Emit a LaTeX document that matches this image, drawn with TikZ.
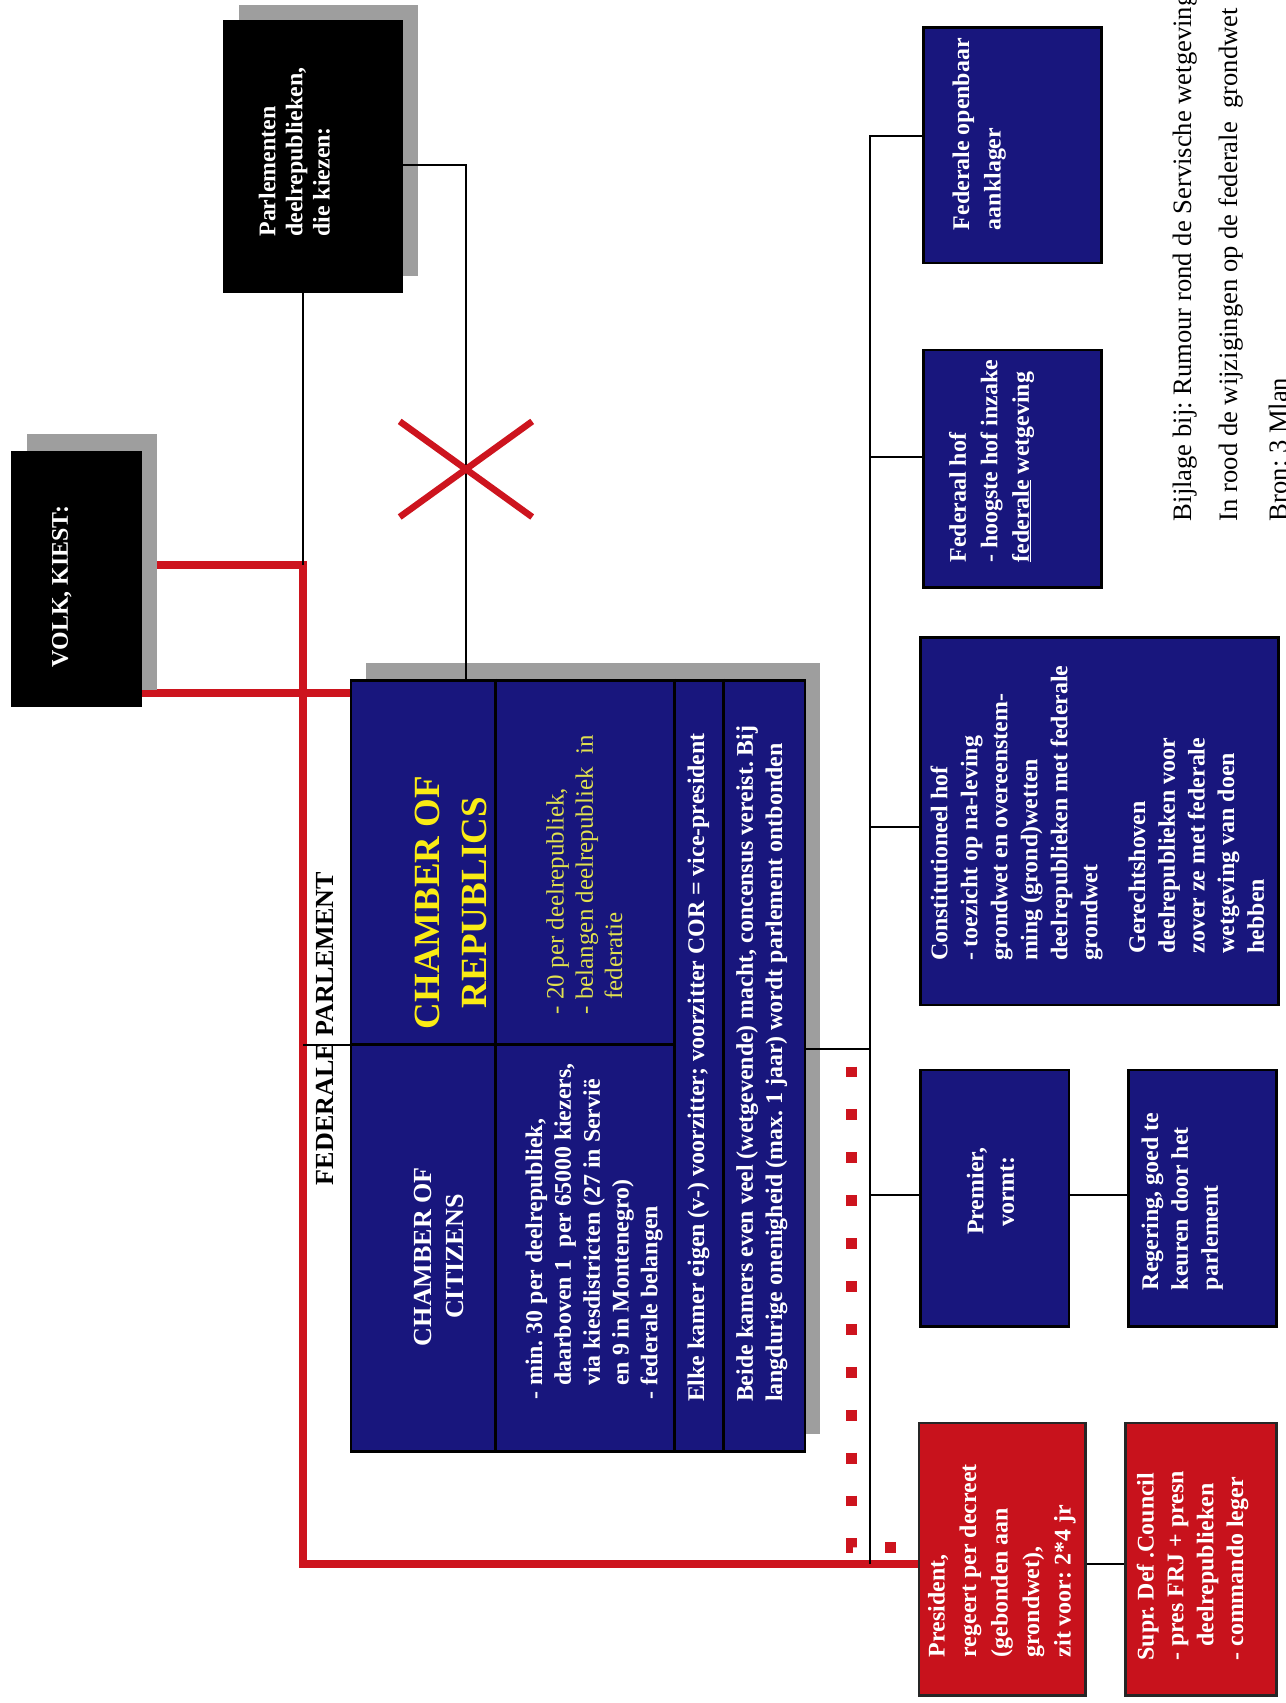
\documentclass[tikz,border=0pt]{standalone}
\usepackage{fontspec}
\setmainfont{Liberation Serif}
\frenchspacing
\pgfdeclarelayer{bg}
\pgfsetlayers{bg,main}
\definecolor{navy}{RGB}{24,22,125}
\definecolor{boxred}{RGB}{200,18,28}
\definecolor{linered}{RGB}{205,20,30}
\definecolor{shadowgray}{RGB}{158,158,158}
\definecolor{titleyel}{RGB}{250,235,20}
\definecolor{txtyel}{RGB}{225,225,80}
\begin{document}
\begin{tikzpicture}[x=1pt,y=-1pt,
  bluebox/.style={draw=black, line width=2.5pt, fill=navy, inner sep=0pt, anchor=north west},
  redbox/.style={draw=black!85, line width=2.5pt, fill=boxred, inner sep=0pt, anchor=north west},
  blackbox/.style={draw=black, fill=black, inner sep=0pt, anchor=north west},
  shadowbox/.style={fill=shadowgray},
  conn/.style={draw=black, line width=1.8pt},
  gridline/.style={draw=black, line width=3pt},
  redconn/.style={draw=linered, line width=7pt},
  reddots/.style={draw=linered, line width=10pt, dash pattern=on 10pt off 29.5pt},
  wtxt/.style={rotate=90, inner sep=0pt, align=left, text=white, font=\fontsize{22}{27}\selectfont\bfseries},
  notetxt/.style={rotate=90, inner sep=0pt, anchor=west, text=black, font=\fontsize{24.5}{28}\selectfont}
]
\useasboundingbox (0,0) rectangle (1184,1568);
\begin{pgfonlayer}{bg}
\fill[white] (0,0) rectangle (1184,1568);
\end{pgfonlayer}

% shadows
\fill[shadowbox] (25,400) rectangle (145,635);
\fill[shadowbox] (220,5) rectangle (385,254);
\fill[shadowbox] (337,610) rectangle (755,1320);

% boxes
\node[blackbox, minimum width=120pt, minimum height=235pt] (volk) at (10,415) {};
\node[blackbox, minimum width=165pt, minimum height=251pt] (parl) at (205,18) {};
\node[bluebox, minimum width=418pt, minimum height=710pt] (chamber) at (322,625) {};
\node[bluebox, minimum width=164pt, minimum height=217pt] (fedOA) at (849,24) {};
\node[bluebox, minimum width=164pt, minimum height=219pt] (fedHof) at (849,321) {};
\node[bluebox, minimum width=330pt, minimum height=338pt] (constHof) at (846,586) {};
\node[bluebox, minimum width=137pt, minimum height=236pt] (premier) at (846,984) {};
\node[bluebox, minimum width=136pt, minimum height=236pt] (regering) at (1038,984) {};
\node[redbox, minimum width=153pt, minimum height=251pt] (president) at (845,1309) {};
\node[redbox, minimum width=139pt, minimum height=251pt] (supr) at (1035,1309) {};

% chamber grid
\draw[gridline] (456,625) -- (456,1335);
\draw[gridline] (621,625) -- (621,1335);
\draw[gridline] (666,625) -- (666,1335);
\draw[gridline] (322,962) -- (621,962);

% junction coordinates
\coordinate (pj) at (429,152);
\coordinate (rj) at (279,520);
\coordinate (r2) at (279,638);
\coordinate (fp) at (279,962);
\coordinate (sp1) at (801,125);
\coordinate (b2) at (801,421);
\coordinate (b3) at (801,761);
\coordinate (b4) at (801,966);
\coordinate (b5) at (801,1100);
\coordinate (b6) at (801,1440);
\coordinate (d1) at (784,982);
\coordinate (d2) at (784,1425);

% red connectors (under shadows)
\begin{pgfonlayer}{bg}
\draw[redconn] (volk.east |- rj) -- (rj) -- (rj |- b6) -- (president.west |- b6);
\draw[redconn] (volk.east |- r2) -- (chamber.west |- r2);
\end{pgfonlayer}

% black connectors
\draw[conn] (parl.east |- pj) -- (pj) -- (pj |- chamber.north);
\draw[conn] (rj |- parl.south) -- (rj);
\draw[conn] (fp) -- (chamber.west |- fp);
\draw[conn] (fedOA.west |- sp1) -- (sp1) -- (b6);
\draw[conn] (b2) -- (b2 -| fedHof.west);
\draw[conn] (b3) -- (b3 -| constHof.west);
\draw[conn] (chamber.east |- b4) -- (b4);
\draw[conn] (b5) -- (b5 -| premier.west);
\draw[conn] (premier.east |- b5) -- (regering.west |- b5);
\draw[conn] (president.east |- b6) -- (supr.west |- b6);

% red cross and dotted line
\draw[linered, line width=6pt] (368,388) -- (490,476);
\draw[linered, line width=6pt] (368,476) -- (490,388);
\draw[reddots] (d1) -- (d2) -- (president.west |- d2);

% texts
\node[wtxt, anchor=center] (volkT) at (57,540) {VOLK, KIEST:};
\node[wtxt, anchor=west, font=\fontsize{22}{25}\selectfont\bfseries] (parlT) at (271,218) {Parlementen\\deelrepublieken,\\die kiezen:};
\node[rotate=90, inner sep=0pt, text=black, font=\fontsize{24}{28}\selectfont\bfseries] (fedparl) at (299,947) {FEDERALE PARLEMENT};
\node[wtxt, align=center, font=\fontsize{24}{29}\selectfont\bfseries] (citT) at (404,1157) {CHAMBER OF\\CITIZENS};
\node[wtxt, align=center, text=titleyel, font=\fontsize{34}{43}\selectfont\bfseries] (repT) at (415,831) {CHAMBER OF\\REPUBLICS};
\node[wtxt, anchor=west, font=\fontsize{22}{26.5}\selectfont\bfseries] (citD) at (547,1289) {- min. 30 per deelrepubliek,\\\phantom{- }daarboven 1\ \ per 65000 kiezers,\\\phantom{- }via kiesdistricten (27 in Servië\\\phantom{- }en 9 in Montenegro)\\- federale belangen};
\node[wtxt, anchor=west, text=txtyel, font=\fontsize{23}{27}\selectfont] (repD) at (538,934) {- 20 per deelrepubliek,\\- belangen deelrepubliek\ \ in\\\phantom{- }federatie};
\node[wtxt, anchor=west] (elkeT) at (643,1291) {Elke kamer eigen (v-) voorzitter; voorzitter COR = vice-president};
\node[wtxt, anchor=west] (beideT) at (701.5,1291) {Beide kamers even veel (wetgevende) macht, concensus vereist. Bij\\langdurige onenigheid (max. 1 jaar) wordt parlement ontbonden};
\node[wtxt, anchor=west, font=\fontsize{22}{29}\selectfont\bfseries] (fedOAT) at (901.5,212) {Federale openbaar\\aanklager};
\node[wtxt, anchor=west, font=\fontsize{22}{29}\selectfont\bfseries] (fedHofT) at (913,518) {Federaal hof\\- hoogste hof inzake\\\underline{federale} wetgeving};
\node[wtxt, anchor=west, font=\fontsize{22}{27.6}\selectfont\bfseries] (constT1) at (936,885) {Constitutioneel hof\\- toezicht op na-leving\\grondwet en overeenstem-\\ming (grond)wetten\\deelrepublieken met federale\\grondwet};
\node[wtxt, anchor=west, font=\fontsize{22}{27.3}\selectfont\bfseries] (constT2) at (1101.5,878) {Gerechtshoven\\deelrepublieken voor\\zover ze met federale\\wetgeving van doen\\hebben};
\node[wtxt, align=center, font=\fontsize{22}{28}\selectfont\bfseries] (premT) at (912,1097) {Premier,\\vormt:};
\node[wtxt, anchor=west, font=\fontsize{22}{27.5}\selectfont\bfseries] (regT) at (1088.5,1188) {Regering, goed te\\keuren door het\\parlement};
\node[wtxt, anchor=west, font=\fontsize{22}{29}\selectfont\bfseries] (presT) at (922.5,1526) {President,\\regeert per decreet\\(gebonden aan\\grondwet),\\zit voor: 2*4 jr};
\node[wtxt, anchor=west, font=\fontsize{22}{27.5}\selectfont\bfseries] (suprT) at (1098,1529) {Supr. Def .Council\\- pres FRJ + presn\\\phantom{- }deelrepublieken\\- commando leger};
\node[notetxt] (note1) at (1091,480) {Bijlage bij: Rumour rond de Servische wetgeving};
\node[notetxt] (note2) at (1133,480) {In rood de wijzigingen op de federale\ \ grondwet};
\node[notetxt] (note3) at (1177,480) {Bron: 3 Mlan};
\end{tikzpicture}
\end{document}
